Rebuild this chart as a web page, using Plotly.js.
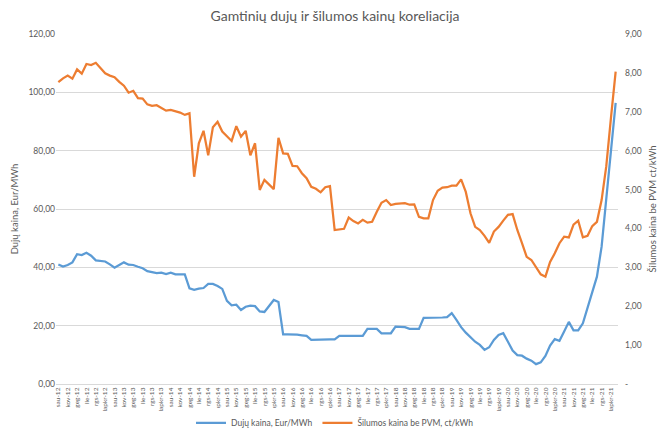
<!DOCTYPE html>
<html>
<head>
<meta charset="utf-8">
<script src="https://cdn.plot.ly/plotly-3.0.1.min.js"></script>
<style>html,body{margin:0;padding:0;background:#fff;}#chart{width:670px;height:436px;}</style>
</head>
<body>
<div id="chart"></div>
<script>
// Month abbreviations (Lithuanian) and years covered
const monthNames = ["sau","vas","kov","bal","geg","bir","lie","rgp","rgs","spl","lapkr","grd"];
const years = [12,13,14,15,16,17,18,19,20,21];

// Gas price, Eur/MWh (left axis), monthly Jan 2012 - Dec 2021
const gasPrice = [
 41.0,40.3,40.8,41.7,44.5,44.2,45.0,44.0,42.4,42.2,42.0,41.0,
 39.9,40.8,41.7,40.9,40.8,40.2,39.7,38.7,38.4,38.0,38.2,37.7,
 38.2,37.6,37.6,37.6,32.8,32.3,32.7,32.9,34.3,34.3,33.6,32.6,
 28.5,27.0,27.2,25.4,26.5,26.9,26.7,24.9,24.7,26.8,28.8,28.1,
 17.0,17.0,17.0,16.9,16.7,16.5,15.1,15.2,15.3,15.3,15.3,15.3,
 16.5,16.5,16.5,16.5,16.5,16.5,18.9,18.9,18.9,17.4,17.4,17.4,
 19.7,19.7,19.5,18.9,18.9,18.9,22.7,22.7,22.6,22.7,22.8,22.9,
 24.3,22.0,19.5,17.6,16.0,14.5,13.4,11.7,12.6,15.1,16.8,17.4,
 14.5,11.5,9.9,9.7,8.7,8.0,6.8,7.4,9.6,13.2,15.4,14.8,
 18.0,21.3,18.4,18.4,20.8,26.0,31.0,36.8,47.1,63.0,80.0,96.4
];

// Heat price without VAT, ct/kWh (right axis)
const heatPrice = [
 7.76,7.86,7.93,7.85,8.09,7.98,8.23,8.20,8.26,8.13,7.99,7.93,
 7.89,7.77,7.67,7.49,7.54,7.35,7.34,7.19,7.15,7.17,7.09,7.03,
 7.05,7.02,6.98,6.92,6.96,5.33,6.19,6.51,5.88,6.60,6.74,6.49,
 6.38,6.25,6.63,6.36,6.51,5.88,6.19,4.99,5.25,5.12,5.01,6.33,
 5.93,5.92,5.61,5.60,5.42,5.29,5.07,5.02,4.93,5.06,5.09,3.96,
 3.97,3.99,4.28,4.19,4.13,4.22,4.15,4.17,4.43,4.66,4.73,4.60,
 4.63,4.64,4.65,4.61,4.62,4.30,4.26,4.26,4.73,4.97,5.05,5.06,
 5.10,5.10,5.26,4.94,4.39,4.04,3.96,3.81,3.63,3.92,4.04,4.20,
 4.35,4.37,3.96,3.62,3.27,3.19,3.02,2.82,2.76,3.14,3.36,3.62,
 3.79,3.77,4.10,4.20,3.77,3.81,4.06,4.17,4.73,5.60,6.85,8.03
];

const leftTicks = [0,20,40,60,80,100,120];
const rightTicks = [0,1,2,3,4,5,6,7,8,9];
const rightTickText = ["-","1,00","2,00","3,00","4,00","5,00","6,00","7,00","8,00","9,00"];

const categories = [];
years.forEach(y => monthNames.forEach(m => categories.push(m + "-" + y)));
const shownTicks = categories.filter((c, i) => i % 2 === 0);

const font = "Lato, 'Open Sans', sans-serif";
const grey = "#595959";

const traces = [
 {x: categories, y: gasPrice, type: "scatter", mode: "lines", name: "Dujų kaina, Eur/MWh",
  line: {color: "#5B9BD5", width: 2.25}, yaxis: "y"},
 {x: categories, y: heatPrice, type: "scatter", mode: "lines", name: "Šilumos kaina be PVM, ct/kWh",
  line: {color: "#ED7D31", width: 2.25}, yaxis: "y2"}
];

const layout = {
 width: 670, height: 436,
 margin: {l: 55.5, r: 52, t: 34, b: 52},
 paper_bgcolor: "#fff", plot_bgcolor: "#fff",
 separators: ", ",
 font: {family: font, color: grey, size: 9},
 title: {text: "Gamtinių dujų ir šilumos kainų koreliacija", font: {family: font, size: 14, color: grey},
   x: 0.5, xanchor: "center", y: 0.963, yanchor: "middle"},
 showlegend: true,
 legend: {orientation: "h", x: 0.5, xanchor: "center", xref: "container", yref: "container",
   y: 0.03, yanchor: "middle", itemwidth: 30,
   font: {family: font, size: 8.5, color: grey}, tracegroupgap: 0},
 xaxis: {type: "category", tickmode: "array", tickvals: shownTicks, ticktext: shownTicks,
   tickangle: -90, tickfont: {size: 6.5, color: grey, family: font},
   showgrid: false, showline: true, linecolor: "#d9d9d9", linewidth: 1,
   ticks: "", range: [-0.5, categories.length - 0.5], zeroline: false, automargin: false},
 yaxis: {range: [0, 120], tickmode: "array", tickvals: leftTicks, tickformat: ".2f",
   showgrid: true, gridcolor: "#d9d9d9", gridwidth: 1, zeroline: false, showline: false,
   tickfont: {size: 8.5, color: grey, family: font}, ticks: "",
   title: {text: "Dujų kaina, Eur/MWh", font: {size: 9.5, color: grey, family: font}, standoff: 8},
   automargin: false},
 yaxis2: {range: [0, 9], overlaying: "y", side: "right", tickmode: "array",
   tickvals: rightTicks, ticktext: rightTickText, showgrid: false, zeroline: false, showline: false,
   tickfont: {size: 8.5, color: grey, family: font}, ticks: "", ticklabelstandoff: 6,
   title: {text: "Šilumos kaina be PVM ct/kWh", font: {size: 9.5, color: grey, family: font}, standoff: 8},
   automargin: false}
};

Plotly.newPlot("chart", traces, layout, {displayModeBar: false, staticPlot: true});
</script>
</body>
</html>
